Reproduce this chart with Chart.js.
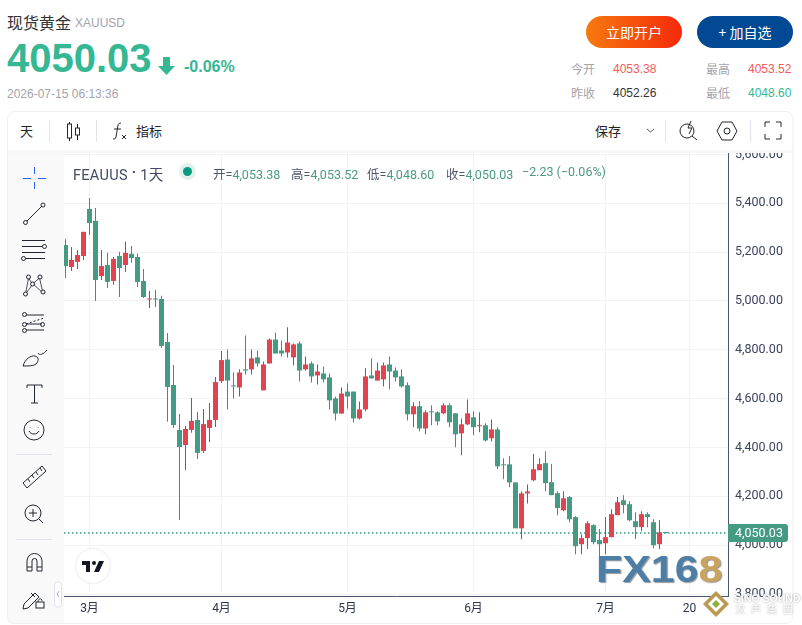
<!DOCTYPE html>
<html>
<head>
<meta charset="utf-8">
<title>现货黄金 XAUUSD</title>
<script src="https://cdn.jsdelivr.net/npm/chart.js@4"></script>
<style>
html,body{margin:0;padding:0;background:#fff;width:802px;height:625px;overflow:hidden;font-family:"Liberation Sans","Noto Sans CJK SC",sans-serif}
.t{position:absolute;white-space:nowrap;line-height:1}
#cv{position:absolute;left:0;top:0}
.cn{font-family:"Noto Sans CJK SC",sans-serif}
.lg{font:12.5px 'Roboto','Noto Sans CJK SC',sans-serif;color:#4f5670;top:164px}
.lg span{color:#4b9a84}
.btn{position:absolute;top:16px;width:96px;height:32px;border-radius:16px;color:#fff;font:14px/32px "Noto Sans CJK SC",sans-serif;text-align:center}
</style>
</head>
<body>
<canvas id="cv" width="802" height="625"></canvas>

<!-- page header -->
<div style="position:absolute;left:0;top:0;width:802px;height:112px;background:#fff"></div>
<div class="t cn" style="left:7px;top:14px;font-size:16px;color:#333">现货黄金</div>
<div class="t" style="left:75px;top:17px;font-size:12px;color:#a3a3ad">XAUUSD</div>
<div class="t" style="left:7px;top:38px;font-size:40px;font-weight:bold;color:#36b793">4050.03</div>
<div class="t" style="left:184px;top:59px;font-size:16px;font-weight:bold;color:#36b793">-0.06%</div>
<svg style="position:absolute;left:158px;top:56px" width="18" height="20"><path d="M5 1h7v9h5l-8.500 9L0 10h5z" fill="#36b793"/></svg>
<div class="t" style="left:7px;top:88px;font-size:12px;color:#a3a3ad">2026-07-15 06:13:36</div>
<div class="btn" style="left:586px;background:linear-gradient(90deg,#f7790f,#f6290a)">立即开户</div>
<div class="btn" style="left:697px;background:#014a93">+ 加自选</div>
<div class="t cn" style="left:571px;top:63px;font-size:12px;color:#a3a3ad">今开</div>
<div class="t" style="left:613px;top:63px;font-size:12px;color:#f25b5b">4053.38</div>
<div class="t cn" style="left:706px;top:63px;font-size:12px;color:#a3a3ad">最高</div>
<div class="t" style="left:748px;top:63px;font-size:12px;color:#f25b5b">4053.52</div>
<div class="t cn" style="left:571px;top:87px;font-size:12px;color:#a3a3ad">昨收</div>
<div class="t" style="left:613px;top:87px;font-size:12px;color:#333">4052.26</div>
<div class="t cn" style="left:706px;top:87px;font-size:12px;color:#a3a3ad">最低</div>
<div class="t" style="left:748px;top:87px;font-size:12px;color:#36b793">4048.60</div>

<!-- top toolbar -->
<div style="position:absolute;left:8px;top:112px;width:785px;height:38px;background:#fff"></div>
<div style="position:absolute;left:8px;top:150px;width:785px;height:3px;background:#f7f7f8"></div>
<div class="t cn" style="left:20px;top:124px;font-size:13px;color:#222">天</div>
<div class="t cn" style="left:136px;top:124px;font-size:13px;color:#222">指标</div>
<div class="t cn" style="left:595px;top:124px;font-size:13px;color:#222">保存</div>

<!-- left toolbar -->
<div style="position:absolute;left:8px;top:153px;width:56px;height:470px;background:#f9f9fa"></div>

<svg style="position:absolute;left:0;top:0" width="802" height="625" fill="none" stroke="#22262f" stroke-width="1">
  <rect x="7.500" y="111.500" width="785.500" height="512" rx="7" stroke="#eeeef0"/>
  <!-- toolbar dividers -->
  <path d="M49.500 120v22M96.500 120v22M665.500 120v22M750.500 120v22" stroke="#e0e3eb"/>
  <!-- candle icon -->
  <path d="M69.500 122v19M77.500 124v16" stroke="#131722"/>
  <rect x="67.500" y="124" width="4" height="14" fill="#fff"/>
  <rect x="75.500" y="128" width="4" height="7" fill="#fff"/>
  <!-- fx icon -->
  <path d="M121 123c-3 0-3 2-3.500 5l-1.500 9c-.5 2-1.500 2-3 2M114 129h7M122 135l4 4M126 135l-4 4"/>
  <!-- save caret -->
  <path d="M647 129l3.500 3 3.500-3" stroke="#555"/>
  <!-- lightning lens -->
  <circle cx="687" cy="131" r="7"/><path d="M692 136l5 4M691 121l-3 7h4l-3 6"/>
  <!-- hexagon -->
  <path d="M717 131l5-9h10l5 9-5 9h-10z"/><circle cx="727" cy="131" r="3"/>
  <!-- fullscreen -->
  <path d="M765 127v-5h5M776 122h5v5M781 134v5h-5M770 139h-5v-5"/>
  <!-- crosshair -->
  <path d="M34.500 167v7M34.500 182v7M23 178.500h8M38 178.500h8" stroke="#2962ff"/>
  <!-- trend line -->
  <path d="M27 221l15-15"/><circle cx="25.500" cy="222.500" r="2"/><circle cx="43" cy="205" r="2"/>
  <!-- parallel lines -->
  <path d="M22 240.500h23M22 246.500h20M26 258.500h19M22 252.500h23"/><circle cx="44.500" cy="246.500" r="2"/><circle cx="23.500" cy="258.500" r="2"/>
  <!-- pattern -->
  <path d="M25.500 294l3-16M28.500 278l4 6 7-6M39.500 278l3.500 15M43 293l-10-9-7.500 10" stroke-width=".8"/><circle cx="28.500" cy="277" r="2" fill="#f9f9fa"/><circle cx="40" cy="277" r="2" fill="#f9f9fa"/><circle cx="25.500" cy="294" r="2" fill="#f9f9fa"/><circle cx="43" cy="292" r="2" fill="#f9f9fa"/><circle cx="32.500" cy="284" r="2" fill="#f9f9fa"/>
  <!-- fib -->
  <path d="M26 315h18M26 330h18"/><path d="M26 324l18-6" stroke-dasharray="2 2"/><path d="M26 324h16"/><circle cx="24.500" cy="314.500" r="2"/><circle cx="24.500" cy="324.500" r="2"/><circle cx="24.500" cy="330.500" r="2"/><circle cx="42.500" cy="324.500" r="2"/>
  <!-- brush -->
  <path d="M23 366c2-7 8-11 12-10 4 1 4 5 1 8-2 2-8 2-13 2zM38 353c1 3 6 1 9-3"/>
  <!-- text tool -->
  <path d="M27 388v-3h15v3M34.500 385v18M31 403h7" />
  <!-- smiley -->
  <circle cx="34" cy="430" r="10"/><path d="M29 431c2 4 8 4 10 0M30 427v.5M38 427v.5"/>
  <path d="M16 454.500h36M16 539.500h36" stroke="#e0e3eb"/>
  <!-- ruler -->
  <path d="M23 483l19-17 4 5-19 17zM28 479l2 3M32 475l2 3M36 472l2 3M40 468l2 3"/>
  <!-- zoom -->
  <circle cx="33" cy="513" r="8"/><path d="M29 513h8M33 509v8M39 519l4 4"/>
  <!-- magnet -->
  <path d="M27 571v-10a7 7 0 0 1 15 0v10h-5v-10a2.500 2.500 0 0 0-5 0v10zM27 567h5M37 567h5"/>
  <!-- pencil and lock -->
  <path d="M24 604l-1 5 5-1 11-11-4-4zM31 593l4 4"/><rect x="36" y="602" width="8" height="6"/><path d="M38 602c0-4 4-4 4-1"/>
  <!-- collapse handle -->
  <rect x="54.500" y="582" width="7" height="25" rx="3" fill="#fff" stroke="#e0e3eb"/><path d="M59 591l-2 3 2 3" stroke="#aab"/>
</svg>

<!-- legend over the chart -->
<div class="t" style="left:73px;top:163px;font:14.500px 'Roboto','Noto Sans CJK SC',sans-serif;color:#434a63;letter-spacing:.3px">FEAUUS <b style="position:relative;top:-3px">·</b> 1天</div>
<div style="position:absolute;left:179px;top:163px;width:17px;height:17px;border-radius:50%;background:#e0f1ec"></div>
<div style="position:absolute;left:183px;top:167px;width:9px;height:9px;border-radius:50%;background:#089981"></div>
<div class="t lg" style="left:213px">开=<span>4,053.38</span></div>
<div class="t lg" style="left:291px">高=<span>4,053.52</span></div>
<div class="t lg" style="left:367px">低=<span>4,048.60</span></div>
<div class="t lg" style="left:446px">收=<span>4,050.03</span></div>
<div class="t lg" style="left:522px"><span>−2.23 (−0.06%)</span></div>

<!-- tradingview badge -->
<div style="position:absolute;left:76px;top:549px;width:34px;height:34px;border-radius:50%;background:#fff;box-shadow:0 0 2px #ccd"></div>
<svg style="position:absolute;left:82px;top:561px" width="22" height="12"><path d="M0 0h8v11H4V4H0zM12 0a2 2 0 1 1 0 4 2 2 0 0 1 0-4zM17 0h5l-5 11h-5z" fill="#131722"/></svg>

<!-- watermarks -->
<div class="t" style="left:596px;top:551px;font-size:37px;font-weight:bold;color:#4d7ea6;transform:scaleX(1.16);transform-origin:0 0;text-shadow:1px 1px 1px #999">FX16<span style="color:#c9a45e">8</span></div>
<svg style="position:absolute;left:702px;top:590px" width="28" height="28"><path d="M14 1l13 13-13 13L1 14z" fill="#b99a50"/><path d="M14 6l8 8-8 8-8-8z" fill="#fff"/><path d="M14 10l4 4-4 4-4-4z" fill="#8fae3c"/></svg>
<div class="t" style="left:734px;top:593px;font-size:10.500px;font-weight:bold;color:#fff;text-shadow:0 0 2px #999">SINO SOUND</div>
<div class="t cn" style="left:735px;top:604px;font-size:10px;letter-spacing:6px;color:#fff;text-shadow:0 0 2px #999">汉声集团</div>

<script>
// daily candles, first one is late Feb 2026, last one is 07-15
var opens = [5229,5139,5160,5184,5377,5328,5102,5147,5082,5184,5147,5193,5180,5082,5006,5008,5008,4832,4656,4472,4410,4472,4513,4386,4480,4513,4672,
	4760,4654,4646,4720,4720,4769,4634,4744,4842,4797,4789,4769,4826,4720,4744,4695,4703,4687,4601,4539,4629,4629,4519,4556,4695,4674,4679,4740,4715,4691,
	4655,4536,4569,4478,4548,4544,4540,4573,4540,4458,4495,4524,4487,4491,4438,4474,4331,4331,4257,4069,4212,
	4266,4307,4336,4258,4213,4143,4197,4115,4004,4029,4082,4021,4008,4033,4123,4184,4168,4098,4074,4127,4094,4004,4053.38];
var highs = [5254,5221,5209,5283,5422,5381,5209,5197,5180,5201,5242,5225,5193,5131,5041,5045,5021,4869,4738,4537,4488,4603,4545,4558,4582,4689,4795,
	4801,4707,4720,4859,4801,4797,4752,4846,4871,4838,4892,4826,4834,4773,4752,4740,4732,4703,4609,4646,4662,4629,4588,4724,4765,4748,4748,4773,4728,4720,
	4667,4585,4589,4552,4573,4548,4581,4581,4540,4519,4597,4548,4544,4499,4515,4483,4356,4364,4257,4220,4249,
	4373,4356,4385,4332,4221,4221,4201,4119,4045,4098,4086,4066,4115,4147,4197,4205,4180,4135,4139,4135,4106,4102,4053.52];
var lows = [5094,5123,5131,5168,5270,5000,5086,5053,5066,5016,5119,5156,5057,5012,4971,4975,4808,4505,4480,4103,4308,4460,4353,4378,4423,4484,4664,
	4556,4601,4609,4699,4699,4732,4634,4744,4785,4773,4769,4736,4670,4715,4666,4658,4666,4556,4511,4539,4560,4502,4515,4548,4683,4674,4650,4638,4670,4646,
	4511,4483,4466,4454,4491,4491,4536,4483,4401,4368,4491,4450,4462,4425,4425,4311,4270,4237,4069,4024,4171,
	4262,4307,4221,4205,4123,4139,4094,3963,3963,3984,4004,3947,3963,4033,4123,4131,4098,4025,4057,4074,3988,3984,4048.60];
var closes = [5143,5168,5188,5283,5319,5086,5143,5078,5172,5135,5197,5176,5078,5016,5008,5006,4816,4648,4492,4402,4476,4509,4378,4496,4513,4668,4758,
	4674,4650,4707,4715,4765,4744,4740,4842,4785,4785,4830,4822,4715,4740,4691,4711,4679,4593,4539,4621,4609,4519,4556,4691,4683,4715,4736,4711,4687,4650,
	4536,4569,4478,4544,4544,4507,4573,4503,4454,4495,4540,4483,4491,4429,4474,4323,4327,4257,4069,4212,4220,
	4311,4332,4254,4205,4152,4192,4106,3996,4029,4090,4012,4004,4033,4127,4176,4164,4102,4074,4127,4115,4000,4052.26,4050.03];

// month ticks on the time axis, counted in trading days
var dateTicks = [4,26,47,68,90,104];
var dateLabels = ['3月','4月','5月','6月','7月','20'];
var priceTicks = [3800,4000,4200,4400,4600,4800,5000,5200,5400,5600];

var upColor = '#e2444f';
var downColor = '#459a84';
var upWick = '#a9474f';
var downWick = '#4f8a70';
var lastPrice = closes[closes.length-1];

var bodies = [];
var wicks = [];
var bodyColors = [];
var wickColors = [];
for (var i = 0; i < closes.length; i++) {
	bodies.push({x: i, y: [opens[i], closes[i]]});
	wicks.push({x: i, y: [lows[i], highs[i]]});
	bodyColors.push(closes[i] >= opens[i] ? upColor : downColor);
	wickColors.push(closes[i] >= opens[i] ? upWick : downWick);
}

// the price tag sitting on the right axis
var priceTag = {
	id: 'priceTag',
	afterDraw: function(chart) {
		var ctx = chart.ctx;
		var y = chart.scales.y.getPixelForValue(lastPrice);
		ctx.save();
		ctx.fillStyle = downColor;
		ctx.beginPath();
		ctx.roundRect(chart.chartArea.right, y - 9, 60, 18, [0, 3, 3, 0]);
		ctx.fill();
		ctx.fillStyle = '#fff';
		ctx.font = '12.5px Roboto';
		ctx.textBaseline = 'middle';
		ctx.fillText(lastPrice.toLocaleString('en-US', {minimumFractionDigits: 2}), chart.chartArea.right + 7, y + 1);
		ctx.restore();
	}
};

var chart = new Chart(document.getElementById('cv').getContext('2d'), {
	type: 'bar',
	data: {
		datasets: [
			{type: 'line', data: [{x: -0.25, y: lastPrice}, {x: 110.4167, y: lastPrice}], borderColor: '#2e9c80', borderWidth: 1.5, borderDash: [1.5, 2.5], pointRadius: 0, order: 3},
			{data: wicks, backgroundColor: wickColors, barThickness: 1, minBarLength: 1, inflateAmount: 0, grouped: false, order: 2},
			{data: bodies, backgroundColor: bodyColors, barThickness: 5, minBarLength: 1, inflateAmount: 0, grouped: false, order: 1}
		]
	},
	options: {
		responsive: false,
		animation: false,
		layout: {padding: {left: 64, top: 130, right: 0, bottom: 0}},
		plugins: {legend: {display: false}, tooltip: {enabled: false}},
		scales: {
			x: {
				type: 'linear',
				offset: false,
				min: -0.25,
				max: 110.4167,
				afterFit: function(scale) { scale.height = 29; },
				afterBuildTicks: function(scale) {
					scale.ticks = dateTicks.map(function(v) { return {value: v}; });
				},
				grid: {color: '#f2f3f5', offset: false, drawTicks: false},
				border: {color: '#4a5370', z: 1},
				ticks: {
					color: '#2a3350',
					font: {size: 12, family: "Roboto, 'Noto Sans CJK SC'"},
					padding: 6,
					maxRotation: 0,
					autoSkip: false,
					callback: function(v) { return dateLabels[dateTicks.indexOf(v)]; }
				}
			},
			y: {
				position: 'right',
				min: 3792,
				max: 5700,
				afterFit: function(scale) { scale.width = 74; },
				afterBuildTicks: function(scale) {
					scale.ticks = priceTicks.map(function(v) { return {value: v}; });
				},
				grid: {color: '#f2f3f5', drawTicks: false},
				border: {color: '#4a5370'},
				ticks: {
					color: '#3b4460',
					font: {size: 12.5, family: 'Roboto'},
					padding: 7,
					autoSkip: false,
					callback: function(v) { return v.toLocaleString('en-US', {minimumFractionDigits: 2}); }
				}
			}
		}
	},
	plugins: [priceTag]
});
</script>
</body>
</html>
